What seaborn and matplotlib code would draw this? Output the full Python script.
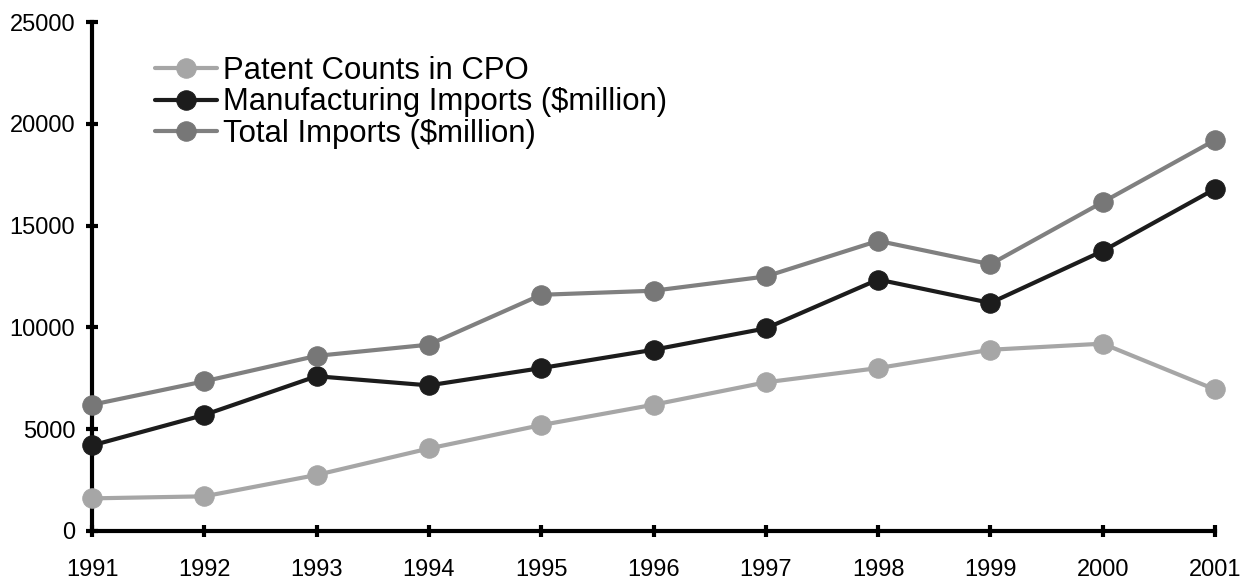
import pandas as pd
import matplotlib
matplotlib.use("Agg")
import matplotlib.pyplot as plt
import seaborn as sns

# values
years = list(range(1991, 2002))
patent_counts = [1600, 1700, 2750, 4050, 5200, 6200, 7300, 8000, 8900, 9200, 6950]
manufacturing_imports = [4200, 5700, 7600, 7150, 8000, 8900, 9950, 12350, 11200, 13750, 16800]
total_imports = [6200, 7350, 8600, 9150, 11600, 11800, 12500, 14250, 13100, 16150, 19200]

series_names = ["Patent Counts in CPO", "Manufacturing Imports ($million)", "Total Imports ($million)"]
line_colors = ["#a6a6a6", "#1c1c1c", "#808080"]
marker_colors = ["#a6a6a6", "#1c1c1c", "#777777"]

df = pd.DataFrame({
    "year": years * 3,
    "value": patent_counts + manufacturing_imports + total_imports,
    "series": sum([[n] * len(years) for n in series_names], []),
})

sns.set_style("white")
plt.rcParams["font.family"] = ["Liberation Sans", "DejaVu Sans"]

fig = plt.figure(figsize=(12.5, 5.79), dpi=100)
ax = fig.add_axes([0.0736, 0.083, 0.8984, 0.879])

for name, lc, mc in zip(series_names, line_colors, marker_colors):
    sns.lineplot(data=df[df["series"] == name], x="year", y="value", ax=ax,
                 color=lc, linewidth=3, marker="o", markersize=14,
                 markerfacecolor=mc, markeredgecolor=mc, label=name,
                 clip_on=False, zorder=3)

ax.set_xlim(1991, 2001)
ax.set_ylim(0, 25000)
ax.set_xticks(years)
ax.set_yticks(range(0, 25001, 5000))
ax.set_xlabel("")
ax.set_ylabel("")
ax.tick_params(axis="both", which="major", bottom=True, left=True, direction="inout",
               length=9, width=3, labelsize=17, color="black", labelcolor="black")
ax.tick_params(axis="x", pad=16)
ax.tick_params(axis="y", pad=7.5)
for side in ["top", "right"]:
    ax.spines[side].set_visible(False)
for side in ["left", "bottom"]:
    ax.spines[side].set_linewidth(3)
    ax.spines[side].set_color("black")

leg = ax.legend(loc="upper left", bbox_to_anchor=(0.114, 0.925), bbox_transform=fig.transFigure,
                frameon=False, fontsize=22.4, handlelength=2.0, handletextpad=0.2,
                labelspacing=0.05, borderaxespad=0)
for t in leg.get_texts():
    t.set_color("black")

fig.savefig("out.png", dpi=100)
